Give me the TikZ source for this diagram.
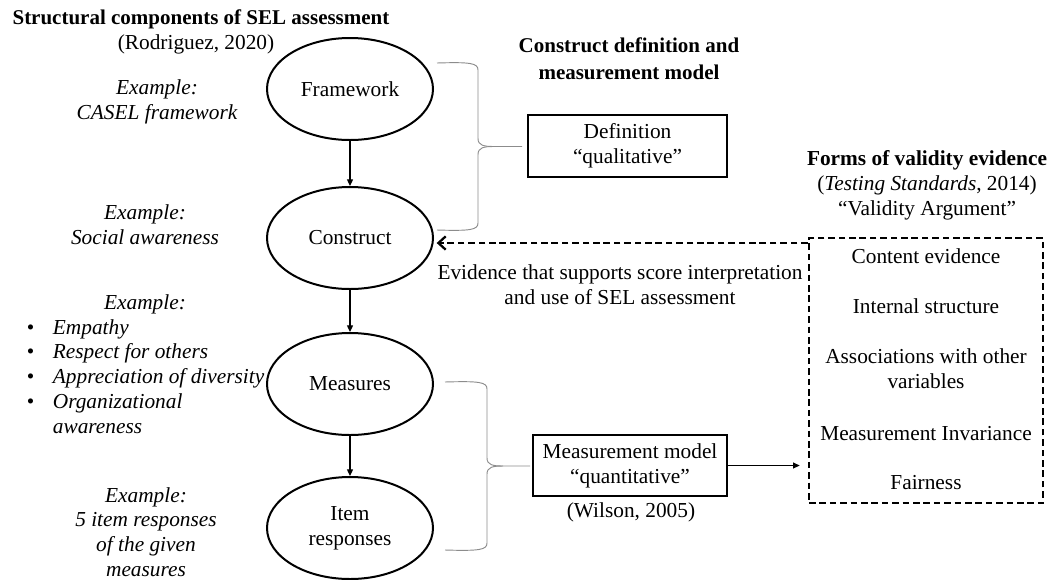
\documentclass[tikz,border=0pt]{standalone}
\usepackage{fontspec}
\setmainfont{Liberation Serif}
\usetikzlibrary{arrows.meta,shapes.geometric}

% curly brace: left end x, spine x, top y, bottom y, tip x
\newcommand\drawcurly[5]{%
  \pgfmathsetmacro\bmid{(#3+#4)/2}%
  \draw[bracepath] (#1,#3) .. controls ({#2-8},{#3-1}) and (#2,#3) .. (#2,{#3+7})
    -- (#2,{\bmid-8}) .. controls (#2,{\bmid-1}) and ({#2+6},\bmid) .. ({#2+16},\bmid)
    -- (#5,\bmid);
  \draw[bracepath] ({#2+16},\bmid) .. controls ({#2+6},\bmid) and (#2,{\bmid+1}) .. (#2,{\bmid+8})
    -- (#2,{#4-7}) .. controls (#2,#4) and ({#2-8},{#4+1}) .. (#1,#4);
}

\begin{document}
\begin{tikzpicture}[x=0.75pt, y=-0.75pt,
  txt/.style={font=\fontsize{16}{18.6}\selectfont, align=center, inner sep=0pt},
  extxt/.style={txt, font=\fontsize{16}{18.6}\selectfont\itshape},
  headtxt/.style={txt, font=\fontsize{15.75}{18.6}\selectfont\bfseries},
  stage/.style={draw, line width=1.5pt, ellipse, minimum width=124.5pt,
    minimum height=76.5pt, inner sep=0pt, txt},
  flow/.style={-{Triangle[length=5pt,width=4.5pt]}, line width=0.9pt},
  labelbox/.style={draw, line width=1.1pt, txt},
  bracepath/.style={draw=black!45, line width=0.7pt},
  evidarrow/.style={dashed, dash pattern=on 5pt off 2.8pt, line width=2pt,
    -{Straight Barb[length=5.5pt,width=10pt,line width=1.7pt]}},
  evidbox/.style={draw, dashed, dash pattern=on 5pt off 2.8pt, line width=2pt,
    minimum width=175.5pt, minimum height=198.75pt}
]
\useasboundingbox (0,0) rectangle (1052,579);

% left column: headings and examples
\node[headtxt] (title) at (201,19) {Structural components of SEL assessment};
\node[txt] (cite1) at (196,44) {(Rodriguez, 2020)};

\node[extxt] (ex1) at (157,102) {Example:\\CASEL framework};
\node[extxt] (ex2) at (145,225) {Example:\\Social awareness};
\node[extxt] (ex3) at (145,304) {Example:};
\node[txt, anchor=base west] (exlist) at (26.5,334)
  {\begin{tabular}[t]{@{}l@{\hspace{14pt}}l@{}}
   \textbullet & \textit{Empathy}\\
   \textbullet & \textit{Respect for others}\\
   \textbullet & \textit{Appreciation of diversity}\\
   \textbullet & \textit{Organizational}\\
               & \textit{awareness}
   \end{tabular}};
\node[extxt] (ex4) at (146,532) {Example:\\5 item responses\\of the given\\measures};

% structural components
\node[stage] (framework) at (350,89) {Framework};
\node[stage] (construct) at (350,238) {Construct};
\node[stage] (measures) at (350,384) {Measures};
\node[stage] (items) at (350,528) {Item\\responses};

\draw[flow] (framework.south) -- (construct.north);
\draw[flow] (construct.south) -- (measures.north);
\draw[flow] (measures.south) -- (items.north);

% construct definition and measurement model
\node[headtxt, font=\fontsize{15.75}{20}\selectfont\bfseries] (cdhead) at (629,59)
  {Construct definition and\\measurement model};
\node[labelbox, minimum width=149.25pt, minimum height=46.5pt] (defbox) at (627.5,146)
  {Definition\\``qualitative''};
\node[labelbox, minimum width=145.5pt, minimum height=45.75pt] (mmbox) at (630,465.5)
  {Measurement model\\``quantitative''};
\node[txt] (cite3) at (631,512) {(Wilson, 2005)};

\drawcurly{437}{478}{63}{230}{522}
\drawcurly{445}{487}{382}{550}{530}

% validity evidence
\node[txt] (vhead) at (927,185.5)
  {\textbf{Forms of validity evidence}\\(\textit{Testing Standards}, 2014)\\``Validity Argument''};
\node[evidbox] (vbox) at (926,370.5) {};
\node[txt] (v1) at (926,256) {Content evidence};
\node[txt] (v2) at (926,306) {Internal structure};
\node[txt] (v3) at (926,369) {Associations with other\\variables};
\node[txt] (v4) at (926,434) {Measurement Invariance};
\node[txt] (v5) at (926,483) {Fairness};

\node[txt] (evtext) at (620,285)
  {Evidence that supports score interpretation\\and use of SEL assessment};

\coordinate (evlevel) at (0,243);
\draw[evidarrow] (vbox.west |- evlevel) -- ([xshift=2pt]construct.east |- evlevel);
\draw[flow, shorten >=6pt] (mmbox.east) -- (vbox.west |- mmbox.east);
\end{tikzpicture}
\end{document}
